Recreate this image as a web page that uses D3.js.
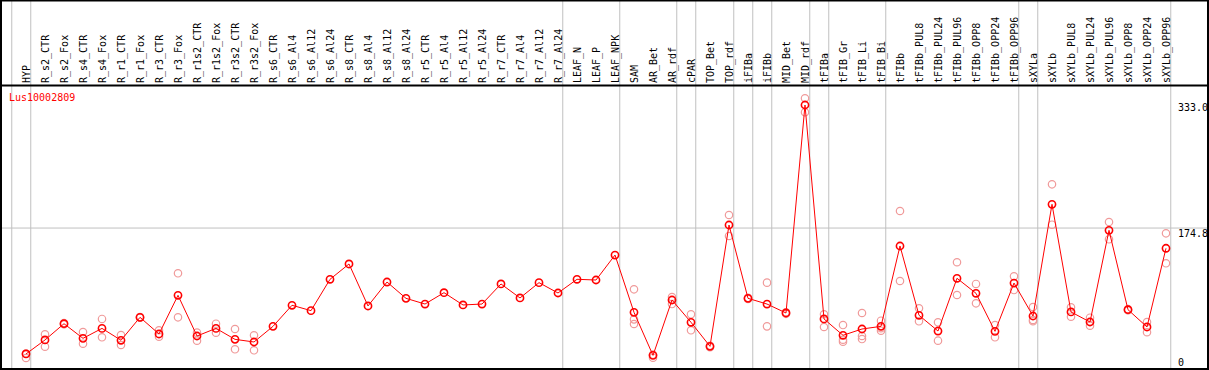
<!DOCTYPE html>
<html><head><meta charset="utf-8">
<script src="https://cdn.jsdelivr.net/npm/d3@7"></script>
<style>body{margin:0;background:#fff}svg{display:block}text{font-family:"DejaVu Sans Mono",monospace;font-size:10px}</style>
</head><body><div id="chart"></div>
<script>
const title = "Lus10002809";
const categories = ["HYP","R_s2_CTR","R_s2_Fox","R_s4_CTR","R_s4_Fox","R_r1_CTR","R_r1_Fox","R_r3_CTR","R_r3_Fox","R_r1s2_CTR","R_r1s2_Fox","R_r3s2_CTR","R_r3s2_Fox","R_s6_CTR","R_s6_Al4","R_s6_Al12","R_s6_Al24","R_s8_CTR","R_s8_Al4","R_s8_Al12","R_s8_Al24","R_r5_CTR","R_r5_Al4","R_r5_Al12","R_r5_Al24","R_r7_CTR","R_r7_Al4","R_r7_Al12","R_r7_Al24","LEAF_N","LEAF_P","LEAF_NPK","SAM","AR_Bet","AR_rdf","cPAR","TOP_Bet","TOP_rdf","iFIBa","iFIBb","MID_Bet","MID_rdf","tFIBa","tFIB_Gr","tFIB_Li","tFIB_Bi","tFIBb","tFIBb_PUL8","tFIBb_PUL24","tFIBb_PUL96","tFIBb_OPP8","tFIBb_OPP24","tFIBb_OPP96","sXYLa","sXYLb","sXYLb_PUL8","sXYLb_PUL24","sXYLb_PUL96","sXYLb_OPP8","sXYLb_OPP24","sXYLb_OPP96"];
const means = [12.9,30.9,51.8,33.0,45.8,30.5,60.0,38.6,88.3,36.0,45.8,31.7,28.3,48.4,75.5,68.6,108.9,128.6,74.6,105.4,84.4,77.1,91.7,75.9,77.1,102.9,84.9,104.6,91.3,108.9,108.0,140.1,66.4,11.1,82.3,53.6,22.7,178.7,84.4,77.1,65.6,333.0,57.9,36.9,45.0,48.4,151.7,62.6,42.4,110.2,90.9,42.0,104.1,61.7,205.3,66.9,54.0,171.9,69.8,47.6,148.8];
const replicates = [[7.7,13.5],[38.2,22.3],[52.5,51.0],[41.1,26.1],[57.9,34.3],[37.3,24.4],[60.5,59.5],[43.3,35.1],[116.6,60.0],[40.3,30.0],[51.8,40.3],[45.0,18.9],[36.9,17.6],
 [],[],[],[],[],[],[],[],[],[],[],[],[],[],[],[],[],[],[],
 [96.0,57.4,51.4],[8.1,12.0],[86.1,77.1],[63.9,43.3],[21.5,23.5],[191.6,164.6],[83.5,85.0],[104.6,48.4],[64.5,66.5],[341.6,323.6],[63.9,47.6],[50.1,31.2,28.7],[65.6,36.0,32.1],[55.7,42.8,46.0],[196.7,106.7],[71.6,54.9],[53.6,30.0],[130.8,88.7],[102.9,78.0],[50.1,34.3],[112.7,95.1],[73.3,56.6,55.0],[231.0,179.1],[72.9,60.8],[59.5,49.2],[182.6,160.3],[70.5,69.0],[54.0,40.8],[168.0,129.5]];
const groupEnds = ["HYP","R_r7_Al24","LEAF_NPK","AR_rdf","cPAR","TOP_rdf","iFIBa","iFIBb","MID_rdf","tFIBa","tFIB_Bi","tFIBb_OPP96","sXYLa","sXYLb_OPP96"];
const yTicks = [0, 174.8, 333.0];
const yTickLabels = ["0","174.8","333.0"];
const gridValues = [174.8];

const W = 1209, H = 370;
const svg = d3.select("#chart").append("svg").attr("width", W).attr("height", H);
const x = d3.scaleBand().domain(categories).range([11.75, 11.75 + 19 * categories.length]);
const px = c => x(c) + 14.25;
const y = d3.scaleLinear().domain([0, 333]).range([364, 105]);

// group separators
svg.append("line").attr("x1", x(categories[0])).attr("x2", x(categories[0])).attr("y1", 0).attr("y2", H).attr("stroke", "#c0c0c0");
svg.selectAll("line.sep").data(groupEnds).join("line").attr("class","sep")
  .attr("x1", d => x(d) + x.bandwidth()).attr("x2", d => x(d) + x.bandwidth())
  .attr("y1", 0).attr("y2", H).attr("stroke", "#c0c0c0");
// horizontal grid
svg.selectAll("line.grid").data(gridValues).join("line").attr("class","grid")
  .attr("x1", 1).attr("x2", 1208).attr("y1", d => y(d)).attr("y2", d => y(d)).attr("stroke", "#c0c0c0");

// header labels
svg.selectAll("text.cat").data(categories).join("text").attr("class","cat")
  .attr("transform", d => `translate(${px(d) + 3.5},83) rotate(-90)`)
  .attr("text-anchor","start").attr("fill","#000").text(d => d);

// y tick labels
svg.selectAll("text.yt").data(yTicks).join("text").attr("class","yt")
  .attr("x", 1178).attr("y", (d,i) => i === 0 ? y(d) + 2 : i === 1 ? y(d) + 8.5 : y(d) + 6)
  .attr("fill","#000").text((d,i) => yTickLabels[i]);

// title
svg.append("text").attr("x", 9).attr("y", 101).attr("fill", "#ff0000").text(title);

// replicates
const repPts = [];
replicates.forEach((arr, i) => arr.forEach(v => repPts.push({c: categories[i], v})));
svg.selectAll("circle.rep").data(repPts).join("circle").attr("class","rep")
  .attr("cx", d => px(d.c)).attr("cy", d => y(d.v)).attr("r", 3.7)
  .attr("fill","none").attr("stroke","#f09a9a").attr("stroke-width",1.2);

// line
const line = d3.line().x((d,i) => px(categories[i])).y(d => y(d));
svg.append("path").datum(means).attr("d", line).attr("fill","none").attr("stroke","#ff0000").attr("stroke-width",1);

// means
svg.selectAll("circle.mean").data(means).join("circle").attr("class","mean")
  .attr("cx", (d,i) => px(categories[i])).attr("cy", d => y(d)).attr("r", 3.6)
  .attr("fill","none").attr("stroke","#ff0000").attr("stroke-width",1.6);

// borders
svg.append("rect").attr("x", 1).attr("y", 0.5).attr("width", 1207).attr("height", 368.5)
  .attr("fill","none").attr("stroke","#000").attr("stroke-width",2);
svg.append("line").attr("x1", 0).attr("x2", W).attr("y1", 85.5).attr("y2", 85.5).attr("stroke","#000").attr("stroke-width",2);
</script></body></html>
